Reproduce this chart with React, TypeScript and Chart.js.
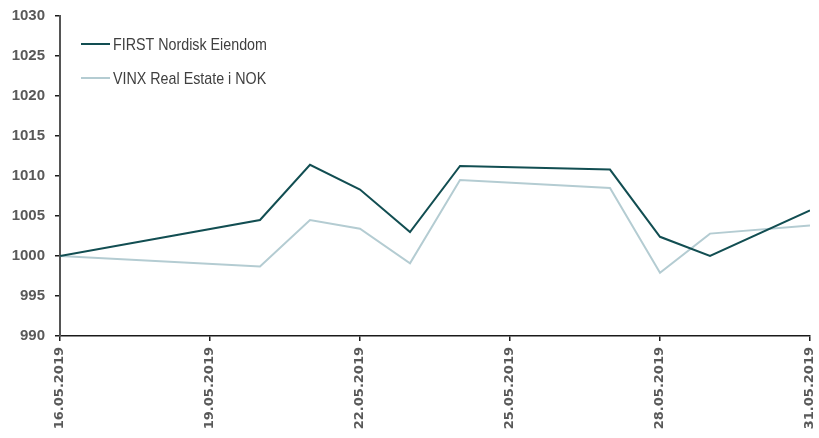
import React, { useEffect, useRef } from "react";
import { Chart, registerables } from "chart.js";

Chart.register(...registerables);

// Trading days in May 2019 and the indexed values (start = 1000)
const dates = [
  "16.05.2019", "20.05.2019", "21.05.2019", "22.05.2019", "23.05.2019",
  "24.05.2019", "27.05.2019", "28.05.2019", "29.05.2019", "31.05.2019",
];
const firstNordisk = [1000, 1004.5, 1011.4, 1008.3, 1003.0, 1011.25, 1010.8, 1002.4, 1000.0, 1005.7];
const vinxRealEstate = [1000, 998.7, 1004.5, 1003.4, 999.1, 1009.5, 1008.5, 997.9, 1002.8, 1003.8];
const seriesLabels = ["FIRST Nordisk Eiendom", "VINX Real Estate i NOK"];

const yMin = 990;
const yMax = 1030;
const yStep = 5;
const xStepDays = 3;

const dayOf = (d: string) => parseInt(d.slice(0, 2), 10);
const tickLabel = (day: number) => `${String(day).padStart(2, "0")}.05.2019`;

const DARK = "#124e52";
const LIGHT = "#b4ccd2";
const TEXT = "#595959";

// Legend drawn inside the plot, top-left, in a condensed face
const insideLegend = {
  id: "insideLegend",
  afterDraw(chart: any) {
    const ctx = chart.ctx;
    ctx.save();
    chart.data.datasets.forEach((ds: any, i: number) => {
      const y = 44 + i * 34;
      ctx.strokeStyle = ds.borderColor;
      ctx.lineWidth = 2;
      ctx.beginPath();
      ctx.moveTo(81, y);
      ctx.lineTo(110, y);
      ctx.stroke();
      ctx.save();
      ctx.translate(113, y + 1);
      ctx.scale(0.84, 1);
      ctx.fillStyle = "#404040";
      ctx.font = '17px "Liberation Sans", Arial, sans-serif';
      ctx.textBaseline = "middle";
      ctx.textAlign = "left";
      ctx.fillText(ds.label, 0, 0);
      ctx.restore();
    });
    ctx.restore();
  },
};

export default function App() {
  const canvasRef = useRef<HTMLCanvasElement | null>(null);

  useEffect(() => {
    document.body.style.margin = "0";
    const canvas = canvasRef.current;
    if (!canvas) return;
    const xs = dates.map(dayOf);
    const chart = new Chart(canvas, {
      type: "line",
      data: {
        datasets: [
          {
            label: seriesLabels[0],
            data: xs.map((x, i) => ({ x, y: firstNordisk[i] })),
            borderColor: DARK,
            backgroundColor: DARK,
            borderWidth: 2,
            pointRadius: 0,
            tension: 0,
          },
          {
            label: seriesLabels[1],
            data: xs.map((x, i) => ({ x, y: vinxRealEstate[i] })),
            borderColor: LIGHT,
            backgroundColor: LIGHT,
            borderWidth: 2,
            pointRadius: 0,
            tension: 0,
          },
        ],
      },
      options: {
        animation: false,
        responsive: false,
        maintainAspectRatio: false,
        layout: { padding: { top: 16, right: 9, left: 0, bottom: 0 } },
        plugins: {
          legend: { display: false },
          tooltip: { enabled: false },
        },
        scales: {
          x: {
            type: "linear",
            min: dayOf(dates[0]),
            max: dayOf(dates[dates.length - 1]),
            afterFit(scale: any) {
              scale.height = 102;
              scale.paddingLeft = 0;
              scale.paddingRight = 0;
            },
            border: { display: true, color: "#1a1a1a", width: 1.5 },
            grid: {
              display: true,
              drawOnChartArea: false,
              drawTicks: true,
              tickLength: 5,
              color: "#1a1a1a",
              lineWidth: 1.5,
            },
            ticks: {
              stepSize: xStepDays,
              autoSkip: false,
              minRotation: 90,
              maxRotation: 90,
              padding: 6,
              color: TEXT,
              font: { family: '"DejaVu Sans"', weight: "bold", size: 13 },
              callback: (v: any) => tickLabel(Number(v)),
            },
          },
          y: {
            min: yMin,
            max: yMax,
            afterFit(scale: any) {
              scale.width = 60;
              scale.paddingTop = 0;
              scale.paddingBottom = 0;
            },
            border: { display: true, color: "#555555", width: 2 },
            grid: {
              display: true,
              drawOnChartArea: false,
              drawTicks: true,
              tickLength: 5,
              color: "#1a1a1a",
              lineWidth: 1.5,
            },
            ticks: {
              stepSize: yStep,
              padding: 10,
              color: TEXT,
              font: { family: '"Liberation Sans"', weight: "bold", size: 15 },
              callback: (v: any) => String(v),
            },
          },
        },
      },
      plugins: [insideLegend],
    });
    return () => chart.destroy();
  }, []);

  return (
    <div style={{ width: 819, height: 438, background: "#ffffff" }}>
      <canvas ref={canvasRef} width={819} height={438} style={{ display: "block" }} />
    </div>
  );
}
